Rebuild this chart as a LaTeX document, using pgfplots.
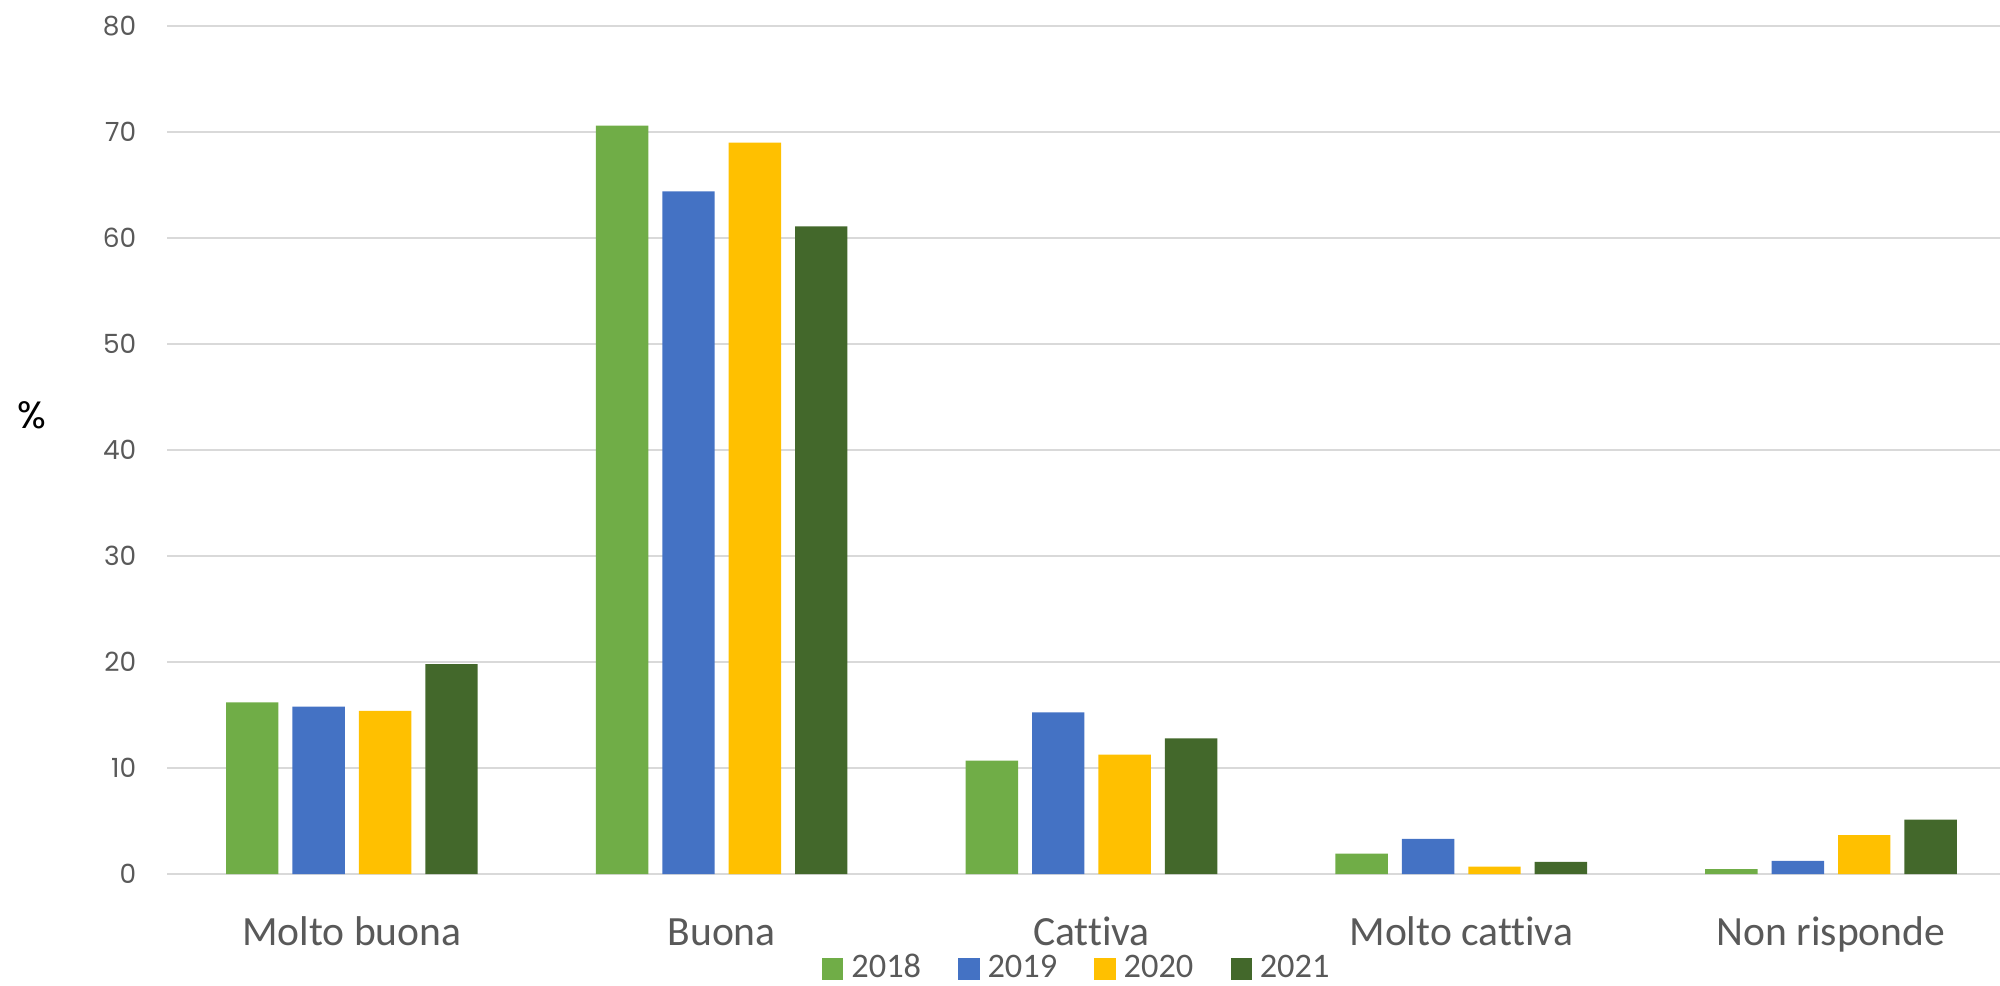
\documentclass[border=0pt]{standalone}
\usepackage{pgfplots}
\pgfplotsset{compat=1.18}
\usepackage{fontspec}
\setmainfont[Ligatures=NoCommon]{Carlito}
\newfontfamily\tickfont{Poppins}
\definecolor{cA}{HTML}{70AD47}
\definecolor{cB}{HTML}{4472C4}
\definecolor{cC}{HTML}{FFC000}
\definecolor{cD}{HTML}{43682B}
\definecolor{gridgray}{HTML}{D9D9D9}
\definecolor{labelgray}{HTML}{595959}
\begin{document}
\begin{tikzpicture}
\begin{axis}[
  at={(41.75pt,27.75pt)}, anchor=south west,
  scale only axis, width=458.25pt, height=212pt,
  xmin=-0.5, xmax=4.457, ymin=0, ymax=80,
  ytick={0,10,...,80},
  xtick={0,1,2,3,4},
  xticklabels={Molto buona, Buona, Cattiva, Molto cattiva, Non risponde},
  ymajorgrids, grid style={draw=gridgray, line width=0.6pt},
  axis line style={draw=none},
  major tick length=0pt,
  /pgf/number format/assume math mode=true,
  xticklabel style={font=\fontsize{10.4}{12}\selectfont, text=labelgray, anchor=base, yshift=-17.75pt, inner sep=0pt},
  yticklabel style={font=\tickfont\fontsize{6.6}{8}\selectfont, text=labelgray, anchor=east, inner sep=0pt, xshift=-7.5pt},
  ylabel={\%},
  ylabel style={at={(axis description cs:-0.0737,0.541)}, rotate=-90, anchor=center, font=\tickfont\fontsize{9.5}{11}\selectfont, text=black},
  ybar=3.5pt, bar width=13.1pt,
  legend columns=-1,
  legend style={at={(0.498,-0.112)}, anchor=center, draw=none, fill=none,
    font=\fontsize{8.6}{10}\selectfont, text=labelgray,
    /tikz/every even column/.append style={column sep=7.3pt},
    inner sep=0pt},
  legend image code/.code={\fill[#1] (0pt,-2.65pt) rectangle (5.3pt,2.65pt);},
]
\addplot[fill=cA, draw=none] coordinates {(0,16.2) (1,70.6) (2,10.7) (3,1.93) (4,0.47)};
\addplot[fill=cB, draw=none] coordinates {(0,15.8) (1,64.4) (2,15.25) (3,3.32) (4,1.23)};
\addplot[fill=cC, draw=none] coordinates {(0,15.4) (1,69.0) (2,11.27) (3,0.70) (4,3.67)};
\addplot[fill=cD, draw=none] coordinates {(0,19.8) (1,61.1) (2,12.8) (3,1.14) (4,5.13)};
\legend{2018,2019,2020,2021}
\end{axis}
\pgfresetboundingbox
\path (0,0) rectangle (500pt,246.25pt);
\end{tikzpicture}
\end{document}
